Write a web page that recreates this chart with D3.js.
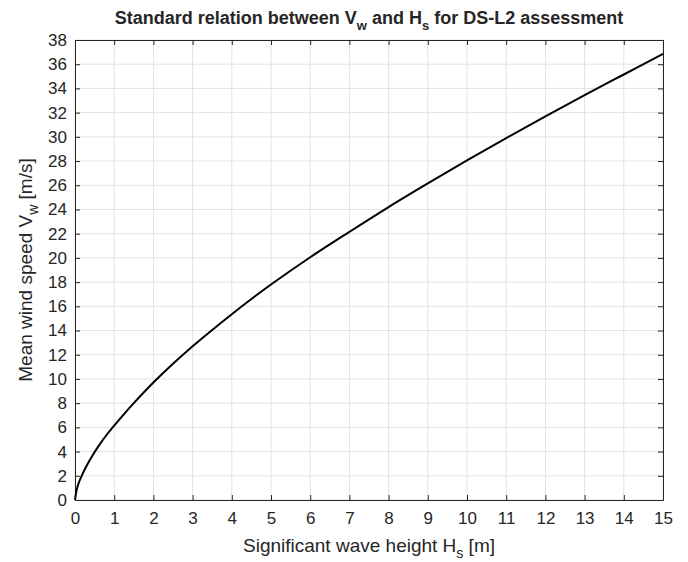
<!DOCTYPE html>
<html>
<head>
<meta charset="utf-8">
<script src="https://cdn.jsdelivr.net/npm/d3@7"></script>
<style>
  body { margin: 0; background: #fff; }
  text { font-family: "Liberation Sans", Arial, sans-serif; fill: #262626; }
</style>
</head>
<body>
<div id="chart"></div>
<script>
// Values
const waveHeight = [0, 0.04, 0.1, 0.2, 0.3, 0.45, 0.6, 0.8, 1, 1.25, 1.5, 2, 2.5, 3, 3.5, 4, 4.5, 5, 6, 7, 8, 9, 10, 11, 12, 13, 14, 15];
const windSpeed  = [0, 0.8, 1.45, 2.2, 2.85, 3.7, 4.45, 5.35, 6.15, 7.1, 8.0, 9.7, 11.25, 12.7, 14.05, 15.35, 16.6, 17.8, 20.05, 22.15, 24.2, 26.15, 28.05, 29.9, 31.7, 33.45, 35.15, 36.85];
const xTicks = d3.range(0, 16, 1);
const yTicks = d3.range(0, 39, 2);

const W = 688, H = 562;
const margin = {top: 40, right: 25, bottom: 62, left: 75};
const width = W - margin.left - margin.right;
const height = H - margin.top - margin.bottom;

const svg = d3.select("#chart").append("svg")
    .attr("width", W)
    .attr("height", H);

const g = svg.append("g")
    .attr("transform", "translate(" + margin.left + "," + margin.top + ")");

const x = d3.scaleLinear().domain([0, 15]).range([0, width]);
const y = d3.scaleLinear().domain([0, 38]).range([height, 0]);

// Grid
g.append("g").selectAll("line")
    .data(xTicks)
    .join("line")
    .attr("x1", d => x(d)).attr("x2", d => x(d))
    .attr("y1", 0).attr("y2", height)
    .attr("stroke", "#e3e3e3").attr("stroke-width", 1);

g.append("g").selectAll("line")
    .data(yTicks)
    .join("line")
    .attr("x1", 0).attr("x2", width)
    .attr("y1", d => y(d)).attr("y2", d => y(d))
    .attr("stroke", "#e3e3e3").attr("stroke-width", 1);

// Axes (inward ticks, MATLAB box style)
const tick = 5;
const styleAxis = sel => {
    sel.select(".domain").attr("stroke", "#262626");
    sel.selectAll(".tick line").attr("stroke", "#262626");
    sel.selectAll(".tick text").style("font-size", "17px").attr("fill", "#262626");
};

g.append("g")
    .attr("transform", "translate(0," + height + ")")
    .call(d3.axisBottom(x).tickValues(xTicks).tickFormat(d3.format("d")).tickSizeInner(-tick).tickSizeOuter(0).tickPadding(12))
    .call(styleAxis);

g.append("g")
    .call(d3.axisLeft(y).tickValues(yTicks).tickFormat(d3.format("d")).tickSizeInner(-tick).tickSizeOuter(0).tickPadding(8))
    .call(styleAxis);

g.append("g")
    .call(d3.axisTop(x).tickValues(xTicks).tickFormat("").tickSizeInner(-tick).tickSizeOuter(0))
    .call(styleAxis);

g.append("g")
    .attr("transform", "translate(" + width + ",0)")
    .call(d3.axisRight(y).tickValues(yTicks).tickFormat("").tickSizeInner(-tick).tickSizeOuter(0))
    .call(styleAxis);

// Curve
const pts = waveHeight.map((h, i) => [h, windSpeed[i]]);
g.append("path")
    .datum(pts)
    .attr("fill", "none")
    .attr("stroke", "#000")
    .attr("stroke-width", 2)
    .attr("d", d3.line().x(d => x(d[0])).y(d => y(d[1])).curve(d3.curveCatmullRom.alpha(0.5)));

// Title
const title = svg.append("text")
    .attr("x", margin.left + width / 2)
    .attr("y", 24)
    .attr("text-anchor", "middle")
    .style("font-size", "18px")
    .style("font-weight", "bold")
    .attr("fill", "#000");
title.append("tspan").text("Standard relation between V");
title.append("tspan").attr("dy", 6).style("font-size", "13px").text("w");
title.append("tspan").attr("dy", -6).text(" and H");
title.append("tspan").attr("dy", 6).style("font-size", "13px").text("s");
title.append("tspan").attr("dy", -6).text(" for DS-L2 assessment");

// X label
const xl = svg.append("text")
    .attr("x", margin.left + width / 2)
    .attr("y", 552)
    .attr("text-anchor", "middle")
    .style("font-size", "19px");
xl.append("tspan").text("Significant wave height H");
xl.append("tspan").attr("dy", 6).style("font-size", "14px").text("s");
xl.append("tspan").attr("dy", -6).text(" [m]");

// Y label
const yl = svg.append("text")
    .attr("transform", "translate(32," + (margin.top + height / 2) + ") rotate(-90)")
    .attr("text-anchor", "middle")
    .style("font-size", "19px");
yl.append("tspan").text("Mean wind speed V");
yl.append("tspan").attr("dy", 6).style("font-size", "14px").text("w");
yl.append("tspan").attr("dy", -6).text(" [m/s]");
</script>
</body>
</html>
